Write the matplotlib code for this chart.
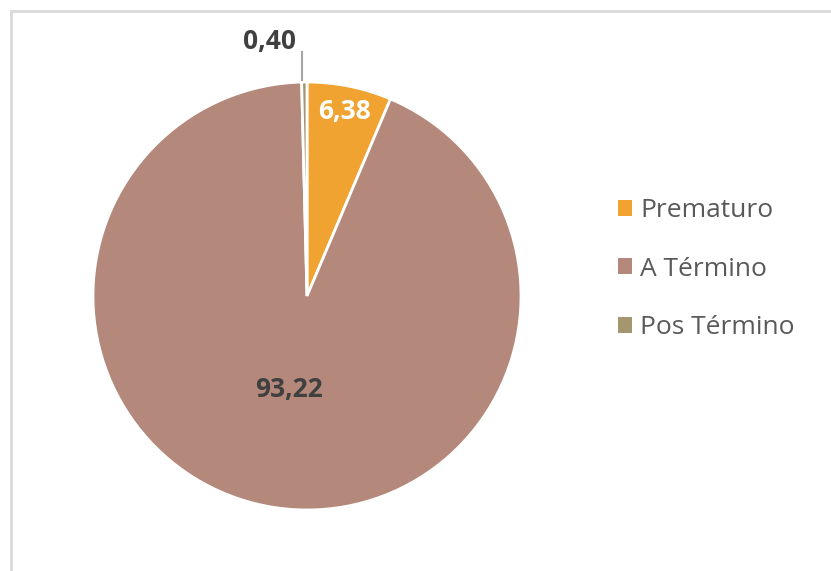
import matplotlib
matplotlib.use('Agg')
import matplotlib.pyplot as plt
import numpy as np
from matplotlib.patches import Rectangle

# data
categories = ['Prematuro', 'A Término', 'Pos Término']
values = [6.38, 93.22, 0.40]
labels = ['6,38', '93,22', '0,40']
colors = ['#F0A330', '#B4887B', '#A4966F']

plt.rcParams['font.family'] = ['Open Sans', 'DejaVu Sans']

fig = plt.figure(figsize=(8.31, 5.71), dpi=100)

# light gray frame (only top/left visible in the crop)
fig.patches.append(Rectangle((11 / 831, -0.1), 1.2, (571 - 11) / 571 + 0.1,
                             transform=fig.transFigure, fill=False,
                             edgecolor='#D9D9D9', linewidth=2))

ax = fig.add_axes([93 / 831, 61 / 571, 428 / 831, 428 / 571])
wedges, _ = ax.pie(values, colors=colors, startangle=90, counterclock=False,
                   radius=1, wedgeprops=dict(edgecolor='white', linewidth=2))
ax.set_xlim(-1, 1)
ax.set_ylim(-1, 1)
ax.set_aspect('equal')
ax.axis('off')

# data labels
total = sum(values)
cum = np.cumsum([0] + values[:-1])
mids = [90 - (c + v / 2) / total * 360 for c, v in zip(cum, values)]

a = np.deg2rad(mids[0])
ax.text(0.88 * np.cos(a), 0.88 * np.sin(a), labels[0], color='white',
        fontsize=19, fontweight='bold', ha='center', va='center')
a = np.deg2rad(mids[1])
ax.text(0.445 * np.cos(a), 0.445 * np.sin(a), labels[1], color='#404040',
        fontsize=19, fontweight='bold', ha='center', va='center')
ax.plot([-0.023, -0.023], [1.01, 1.14], color='#A6A6A6', lw=1.5, clip_on=False)
ax.text(-0.173, 1.19, labels[2], color='#404040', fontsize=19,
        fontweight='bold', ha='center', va='center')

leg = fig.legend(wedges, categories, loc='center left',
                 bbox_to_anchor=(594 / 831, 1 - 269 / 571), frameon=False,
                 fontsize=19, handlelength=0.55, handleheight=0.55,
                 handletextpad=0.3, labelspacing=1.27, labelcolor='#595959')
for h in leg.legend_handles:
    h.set_edgecolor('none')

fig.savefig('out.png', dpi=100)
